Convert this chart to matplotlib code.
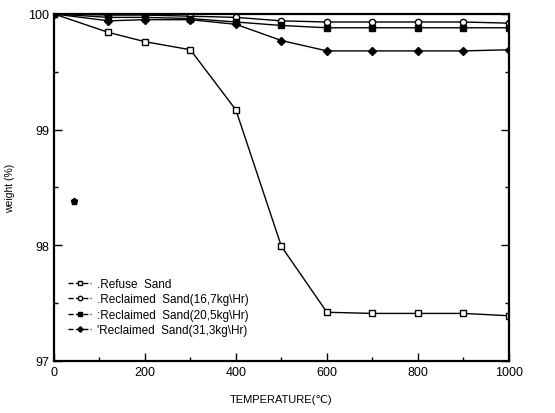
import matplotlib.pyplot as plt
from matplotlib.ticker import MultipleLocator

plt.rcParams['font.family'] = ['Liberation Sans Narrow', 'Liberation Sans', 'DejaVu Sans']

# temperatures (C)
temp = [0, 120, 200, 300, 400, 500, 600, 700, 800, 900, 1000]

# weight (%)
refuse = [100.0, 99.84, 99.76, 99.69, 99.17, 97.99, 97.42, 97.41, 97.41, 97.41, 97.39]
reclaimed_167 = [100.0, 99.99, 99.99, 99.98, 99.97, 99.94, 99.93, 99.93, 99.93, 99.93, 99.92]
reclaimed_205 = [100.0, 99.97, 99.97, 99.96, 99.93, 99.90, 99.88, 99.88, 99.88, 99.88, 99.88]
reclaimed_313 = [100.0, 99.94, 99.95, 99.95, 99.91, 99.77, 99.68, 99.68, 99.68, 99.68, 99.69]

# stray ink spot on the scan
stray_x = [45]
stray_y = [98.38]

labels = ['.Refuse  Sand',
          '.Reclaimed  Sand(16,7kg\\Hr)',
          ':Reclaimed  Sand(20,5kg\\Hr)',
          "'Reclaimed  Sand(31,3kg\\Hr)"]

fig = plt.figure(figsize=(5.55, 4.14), dpi=100)
ax = fig.add_axes([0.097, 0.126, 0.82, 0.838])

ax.plot(temp, refuse, color='black', lw=1.0, marker='s', ms=4.5,
        mfc='white', mec='black', mew=1.0, label=labels[0])
ax.plot(temp, reclaimed_167, color='black', lw=1.0, marker='o', ms=4.5,
        mfc='white', mec='black', mew=1.0, label=labels[1])
ax.plot(temp, reclaimed_205, color='black', lw=1.0, marker='s', ms=4.5,
        mfc='black', mec='black', label=labels[2])
ax.plot(temp, reclaimed_313, color='black', lw=1.0, marker='D', ms=4,
        mfc='black', mec='black', label=labels[3])
ax.plot(stray_x, stray_y, linestyle='none', marker='p', ms=5, color='black')

ax.set_xlim(0, 1000)
ax.set_ylim(97, 100)
ax.xaxis.set_major_locator(MultipleLocator(200))
ax.xaxis.set_minor_locator(MultipleLocator(100))
ax.yaxis.set_major_locator(MultipleLocator(1))
ax.yaxis.set_minor_locator(MultipleLocator(0.5))
ax.tick_params(which='both', direction='in', right=True, top=False,
               labelsize=9, width=1.0)
ax.tick_params(which='major', length=6)
ax.tick_params(which='minor', length=3)
for s in ax.spines.values():
    s.set_linewidth(1.6)

ax.set_xlabel('TEMPERATURE(\u2103)', fontsize=8, labelpad=12)
ax.set_ylabel('weight (%)', fontsize=7.5, labelpad=9)

leg = ax.legend(loc='lower left', bbox_to_anchor=(0.015, 0.05), frameon=False,
                fontsize=8.5, handlelength=2.0, handletextpad=0.5,
                labelspacing=0.3, borderaxespad=0.2, markerscale=0.7)
for h in leg.get_lines():
    h.set_linestyle('--')

fig.savefig('out.png', dpi=100)
